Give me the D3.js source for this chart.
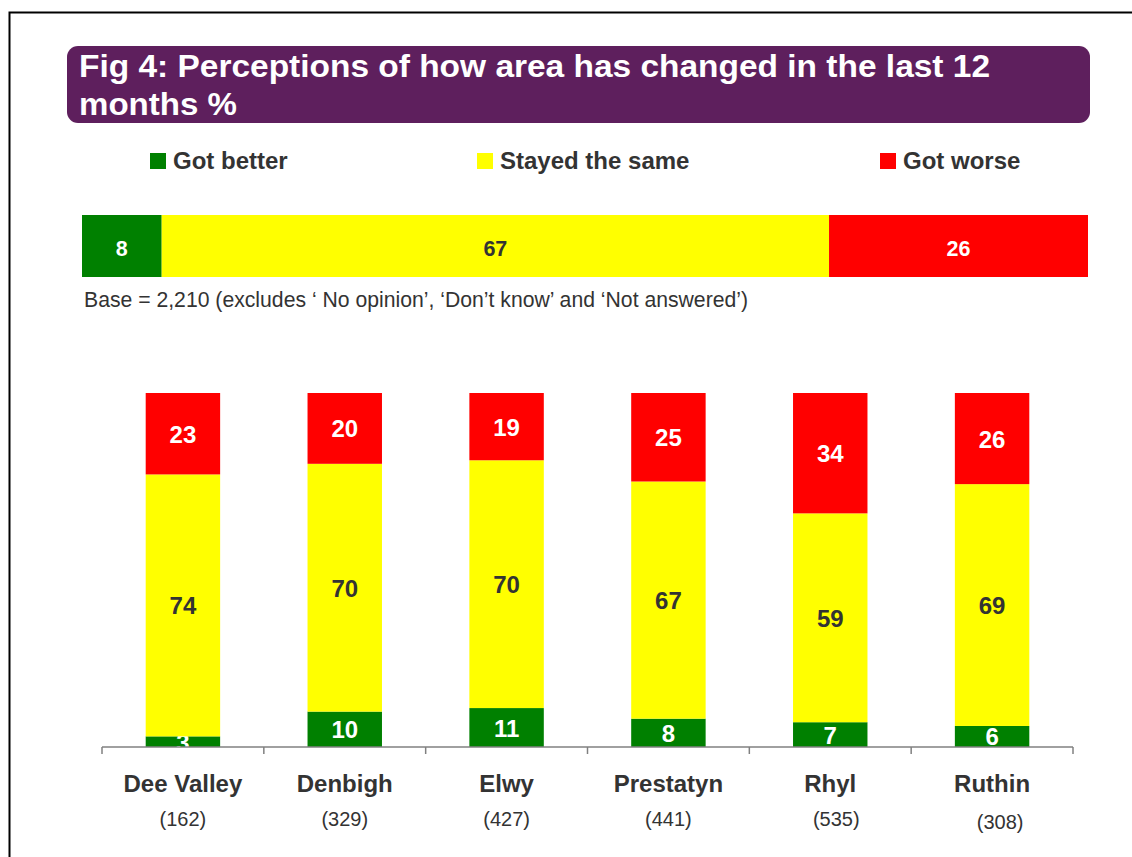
<!DOCTYPE html>
<html><head><meta charset="utf-8">
<script src="https://cdn.jsdelivr.net/npm/d3@7"></script>
<style>body{margin:0;background:#fff}svg{display:block;font-family:"Liberation Sans",Arial,sans-serif}</style>
</head><body><svg id="c" width="1132" height="857"></svg>
<script>
const titleLines = ["Fig 4: Perceptions of how area has changed in the last 12", "months %"];
const seriesNames = ["Got better", "Stayed the same", "Got worse"];
const seriesColors = ["#008000", "#FFFF00", "#FF0000"];
const labelColors = ["#ffffff", "#333333", "#ffffff"];
const overall = [8, 67, 26];
const baseNote = "Base = 2,210 (excludes \u2018 No opinion\u2019, \u2018Don\u2019t know\u2019 and \u2018Not answered\u2019)";
const areas = ["Dee Valley", "Denbigh", "Elwy", "Prestatyn", "Rhyl", "Ruthin"];
const bases = ["(162)", "(329)", "(427)", "(441)", "(535)", "(308)"];
const gotBetter = [3, 10, 11, 8, 7, 6];
const stayedSame = [74, 70, 70, 67, 59, 69];
const gotWorse = [23, 20, 19, 25, 34, 26];

// layout-only tweaks (not data)
const titleWidths = [911, 158];
const baseLabelShift = [[0,0],[0,0],[0,0],[0,0],[6,0],[8,3]];

const svg = d3.select("#c");
const txt = "#333333";

// frame
svg.append("path").attr("d","M9.5,857 L9.5,12.5 L1132,12.5").attr("fill","none").attr("stroke","#000").attr("stroke-width",2);

// title box
svg.append("rect").attr("x",67).attr("y",46).attr("width",1023).attr("height",77).attr("rx",11).attr("fill","#5E1F5D");
svg.selectAll(".tl").data(titleLines).join("text")
  .attr("x",79).attr("y",(d,i)=>77+i*38).attr("fill","#fff")
  .attr("font-size",31.5).attr("font-weight","bold")
  .attr("textLength",(d,i)=>titleWidths[i]).attr("lengthAdjust","spacingAndGlyphs").text(d=>d);

// legend
const legX = [150, 477, 880];
const lg = svg.selectAll(".lg").data(seriesNames).join("g").attr("transform",(d,i)=>`translate(${legX[i]},153)`);
lg.append("rect").attr("width",16).attr("height",16).attr("fill",(d,i)=>seriesColors[i]);
lg.append("text").attr("x",23).attr("y",15.5).attr("font-size",24).attr("font-weight","bold").attr("fill",txt).text(d=>d);

// overall bar
const totO = d3.sum(overall);
const xO = d3.scaleLinear().domain([0,100]).range([82,1088]);
let acc = 0;
const oSegs = overall.map((v,i)=>{const s={x0:acc/totO*100,x1:(acc+v)/totO*100,v,i};acc+=v;return s;});
svg.selectAll(".os").data(oSegs).join("rect")
  .attr("x",d=>xO(d.x0)).attr("width",d=>xO(d.x1)-xO(d.x0)).attr("y",215).attr("height",62)
  .attr("fill",d=>seriesColors[d.i]);
svg.selectAll(".ol").data(oSegs).join("text")
  .attr("x",d=>(xO(d.x0)+xO(d.x1))/2).attr("y",255.5).attr("text-anchor","middle")
  .attr("font-size",21.5).attr("font-weight","bold").attr("fill",d=>labelColors[d.i]).text(d=>d.v);
svg.append("text").attr("x",84).attr("y",307).attr("font-size",21.2).attr("fill",txt).text(baseNote);

// area stacked chart (100% stacked)
const rows = areas.map((a,i)=>({area:a, b:gotBetter[i], s:stayedSame[i], w:gotWorse[i]}));
const rowsN = rows.map(r=>{const t=r.b+r.s+r.w;return {area:r.area,b:r.b/t*100,s:r.s/t*100,w:r.w/t*100};});
const keys = ["b","s","w"];
const stack = d3.stack().keys(keys)(rowsN);
const x = d3.scaleBand().domain(areas).range([102,1073]).paddingInner(0.54).paddingOuter(0.27);
const y = d3.scaleLinear().domain([0,100]).range([747,393]);

const layers = svg.selectAll(".ly").data(stack).join("g");
layers.selectAll("rect").data((d,i)=>d.map(p=>({p,i}))).join("rect")
  .attr("x",d=>x(d.p.data.area)).attr("width",x.bandwidth())
  .attr("y",d=>y(d.p[1])).attr("height",d=>y(d.p[0])-y(d.p[1]))
  .attr("fill",d=>seriesColors[d.i]);
const raw = [gotBetter, stayedSame, gotWorse];
layers.selectAll("text").data((d,i)=>d.map((p,j)=>({p,i,j}))).join("text")
  .attr("x",d=>x(d.p.data.area)+x.bandwidth()/2)
  .attr("y",d=>(y(d.p[0])+y(d.p[1]))/2+9)
  .attr("text-anchor","middle").attr("font-size",24).attr("font-weight","bold")
  .attr("fill",d=>labelColors[d.i]).text(d=>raw[d.i][d.j]);

// axis
const xAxis = d3.axisBottom(x).tickSize(0).tickFormat("");
const ag = svg.append("g").attr("transform","translate(0,747)").call(xAxis);
ag.select(".domain").attr("stroke","#808080").attr("stroke-width",1.5).attr("d","M102,0H1073");
const bounds = d3.range(areas.length+1).map(i=> i<areas.length ? x(areas[i]) - x.step()*x.paddingInner()/2 : x(areas[i-1])+x.bandwidth()+x.step()*x.paddingInner()/2);
ag.selectAll(".tk").data(bounds).join("line").attr("x1",d=>d).attr("x2",d=>d).attr("y1",0).attr("y2",7).attr("stroke","#808080").attr("stroke-width",1.5);

svg.selectAll(".cat").data(areas).join("text")
  .attr("x",d=>x(d)+x.bandwidth()/2).attr("y",792).attr("text-anchor","middle")
  .attr("font-size",24).attr("font-weight","bold").attr("fill",txt).text(d=>d);
svg.selectAll(".bs").data(bases).join("text")
  .attr("x",(d,i)=>x(areas[i])+x.bandwidth()/2+baseLabelShift[i][0]).attr("y",(d,i)=>826+baseLabelShift[i][1]).attr("text-anchor","middle")
  .attr("font-size",20).attr("fill",txt).text(d=>d);
</script></body></html>
